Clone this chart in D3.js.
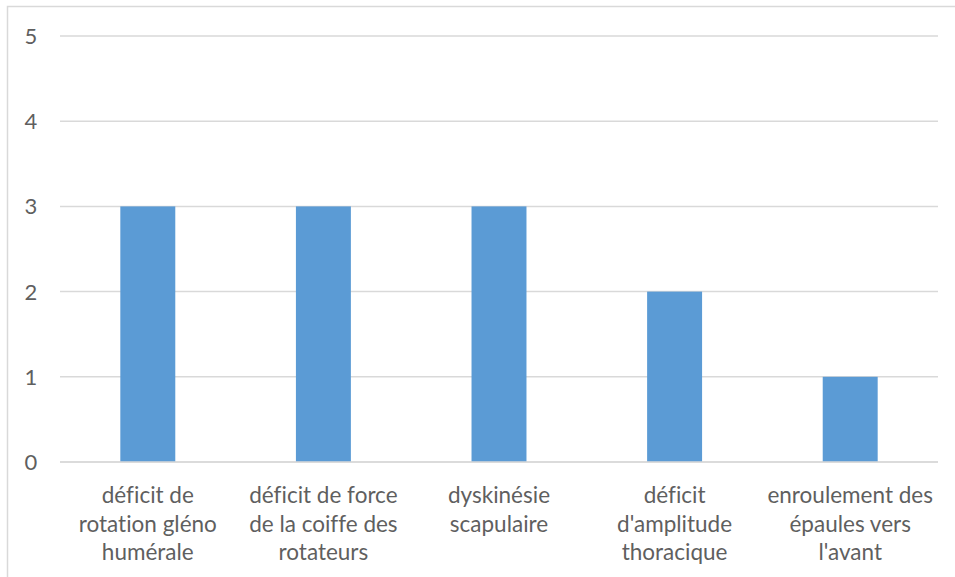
<!DOCTYPE html>
<html>
<head>
<meta charset="utf-8">
<script src="https://cdn.jsdelivr.net/npm/d3@7"></script>
<style>
  html, body { margin: 0; padding: 0; background: #fff; }
  svg { display: block; }
  text { font-variant-ligatures: none; }
</style>
</head>
<body>
<svg id="chart" width="955" height="577"></svg>
<script>
// Categories (line breaks mark the wrapped axis labels)
const categories = [
  "déficit de\nrotation gléno\nhumérale",
  "déficit de force\nde la coiffe des\nrotateurs",
  "dyskinésie\nscapulaire",
  "déficit\nd'amplitude\nthoracique",
  "enroulement des\népaules vers\nl'avant"
];
const values = [3, 3, 3, 2, 1];
const yTicks = [0, 1, 2, 3, 4, 5];

const svg = d3.select("#chart");
const W = 955, H = 577;
const margin = { left: 60, right: 17, top: 36, bottom: 115 };
const font = "Lato, 'Liberation Sans', Arial, sans-serif";
const textColor = "#5f5f5f";

// Chart area frame (runs off the right and bottom edges)
svg.append("rect")
  .attr("x", 7.5).attr("y", 6.5)
  .attr("width", W + 10).attr("height", H + 10)
  .attr("fill", "#fff")
  .attr("stroke", "#d9d9d9")
  .attr("stroke-width", 1.5);

const x = d3.scaleBand()
  .domain(categories)
  .range([margin.left, W - margin.right])
  .paddingInner(0.687)
  .paddingOuter(0.3435);

const y = d3.scaleLinear()
  .domain([0, 5])
  .range([H - margin.bottom, margin.top]);

// Horizontal gridlines
svg.append("g")
  .selectAll("line")
  .data(yTicks)
  .join("line")
  .attr("x1", margin.left)
  .attr("x2", W - margin.right)
  .attr("y1", d => y(d))
  .attr("y2", d => y(d))
  .attr("stroke", "#d9d9d9")
  .attr("stroke-width", 1.5);

// Y tick labels
svg.append("g")
  .selectAll("text")
  .data(yTicks)
  .join("text")
  .attr("x", 31)
  .attr("y", d => y(d))
  .attr("dy", "0.36em")
  .attr("text-anchor", "middle")
  .attr("font-family", font)
  .attr("font-size", 22)
  .attr("fill", textColor)
  .text(d => d);

// Bars
svg.append("g")
  .selectAll("rect")
  .data(categories.map((c, i) => ({ c, v: values[i] })))
  .join("rect")
  .attr("x", d => x(d.c))
  .attr("width", x.bandwidth())
  .attr("y", d => y(d.v))
  .attr("height", d => y(0) - y(d.v))
  .attr("fill", "#5b9bd5");

// Redraw the baseline over the bars
svg.append("line")
  .attr("x1", margin.left).attr("x2", W - margin.right)
  .attr("y1", y(0)).attr("y2", y(0))
  .attr("stroke", "#d9d9d9")
  .attr("stroke-width", 1.5);

// Category labels
const labels = svg.append("g")
  .selectAll("text")
  .data(categories)
  .join("text")
  .attr("x", d => x(d) + x.bandwidth() / 2)
  .attr("y", y(0) + 41)
  .attr("text-anchor", "middle")
  .attr("font-family", font)
  .attr("font-size", 22.5)
  .attr("fill", textColor);

labels.selectAll("tspan")
  .data(d => d.split("\n").map(line => ({ line, cx: x(d) + x.bandwidth() / 2 })))
  .join("tspan")
  .attr("x", d => d.cx)
  .attr("dy", (d, i) => i === 0 ? 0 : 28.5)
  .text(d => d.line);
</script>
</body>
</html>
